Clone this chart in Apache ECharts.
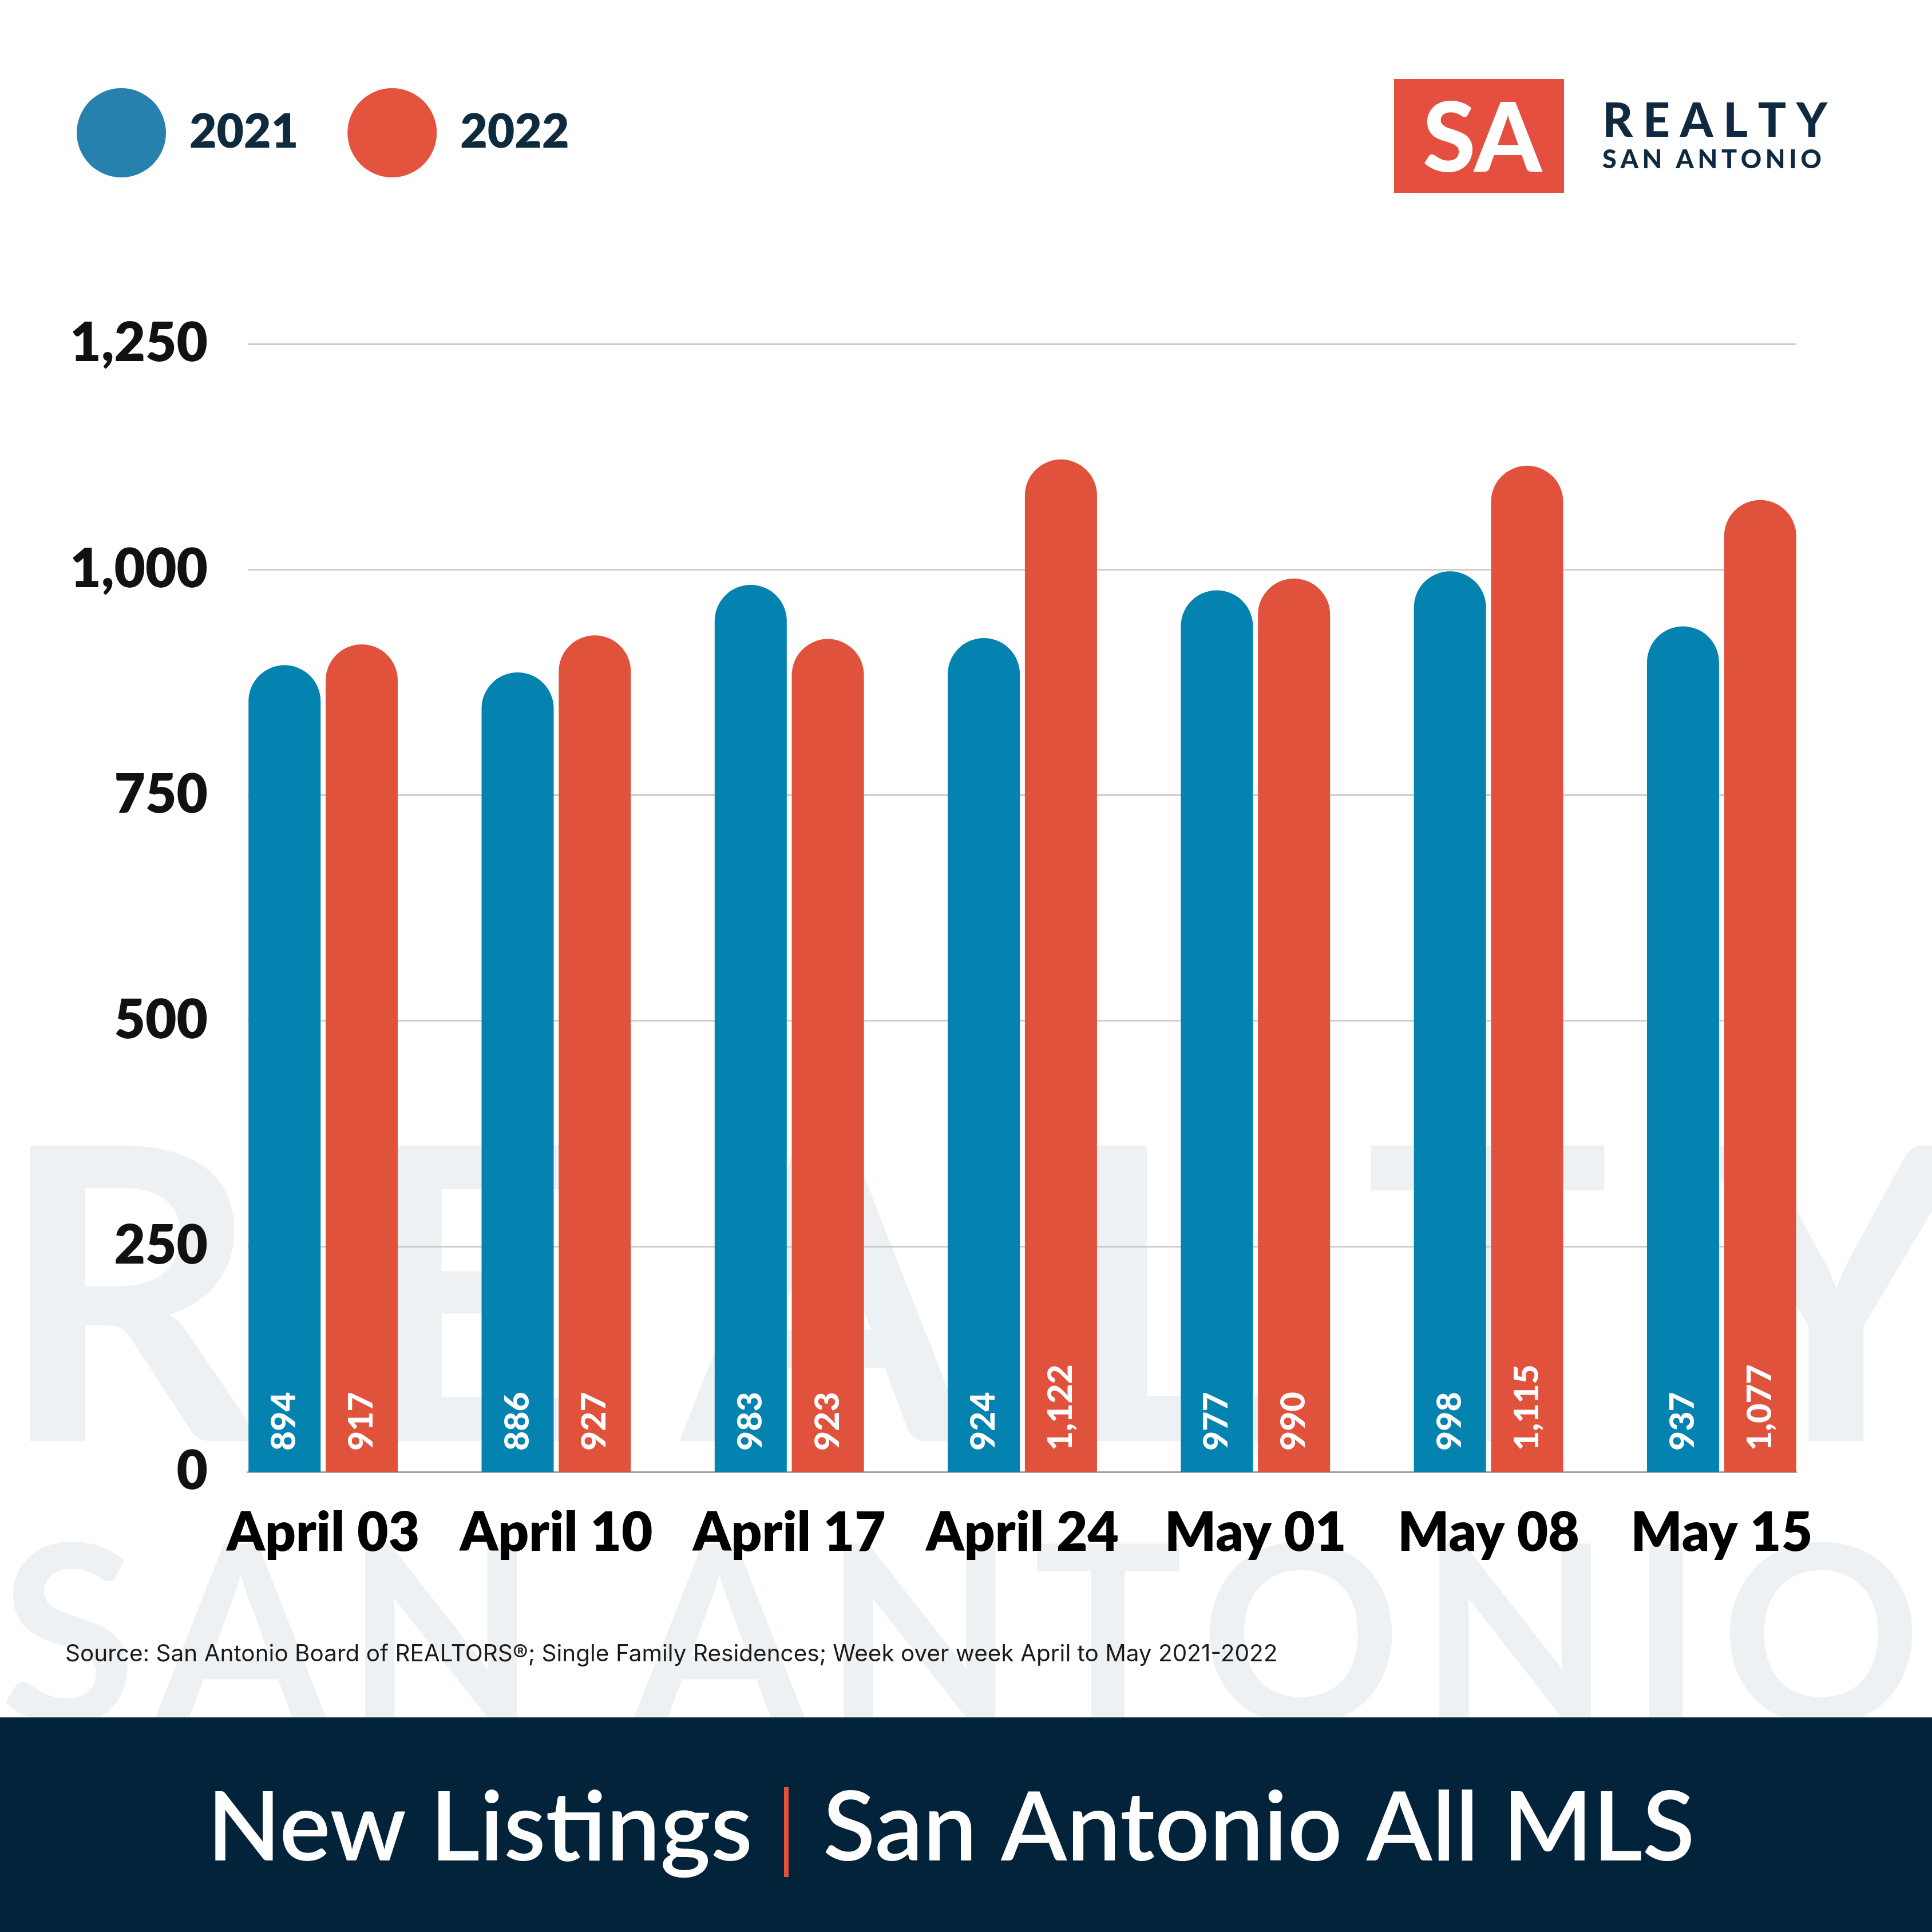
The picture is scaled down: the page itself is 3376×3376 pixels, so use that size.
<!DOCTYPE html>
<html>
<head>
<meta charset="utf-8">
<script src="https://cdn.jsdelivr.net/npm/echarts@6/dist/echarts.min.js"></script>
<style>
  html, body { margin: 0; padding: 0; background: #fff; }
  #chart { width: 3376px; height: 3376px; }
</style>
</head>
<body>
<div id="chart"></div>
<script>
// weekly new listings, San Antonio all MLS
var weeks = ['April 03', 'April 10', 'April 17', 'April 24', 'May 01', 'May 08', 'May 15'];
var listings2021 = [894, 886, 983, 924, 977, 998, 937];
var listings2022 = [917, 927, 923, 1122, 990, 1115, 1077];
var yMax = 1250;
var yStep = 250;

var BLUE = '#0483b0';
var RED = '#e1523d';
var NAVY = '#022339';
var INK = '#0d2a3e';
var FONT = 'Lato';

var chart = echarts.init(document.getElementById('chart'));

// echarts text has no letter spacing, so spread letters over [x0, x1]
var measureCtx = document.createElement('canvas').getContext('2d');
function spacedText(str, x0, x1, capMid, size, weight, color, z) {
  var font = weight + ' ' + size + 'px ' + FONT;
  measureCtx.font = font;
  var chars = str.split('');
  var widths = chars.map(function (c) { return measureCtx.measureText(c).width; });
  var total = widths.reduce(function (a, b) { return a + b; }, 0);
  var gap = (x1 - x0 - total) / (chars.length - 1);
  var x = x0;
  var out = [];
  chars.forEach(function (c, i) {
    if (c !== ' ') {
      out.push({
        type: 'text', z: z, silent: true,
        style: {
          text: c, x: x, y: capMid + size * 0.036, font: font, fill: color,
          textAlign: 'left', textVerticalAlign: 'middle'
        }
      });
    }
    x += widths[i] + gap;
  });
  return out;
}

function plainText(str, x, capMid, size, weight, color, align, family) {
  return {
    type: 'text', z: 5,
    style: {
      text: str, x: x, y: capMid + size * 0.036,
      font: weight + ' ' + size + 'px ' + (family || FONT), fill: color,
      textAlign: align || 'left', textVerticalAlign: 'middle'
    }
  };
}

var graphics = []
  // watermark behind the chart
  .concat(spacedText('REALTY', -5, 3440, 2262, 715, 'bold', '#eef1f4', -10))
  .concat(spacedText('SAN ANTONIO', 0, 3358, 2856, 435, 'bold', '#eef1f4', -10))
  // logo
  .concat([
    { type: 'rect', z: 5, shape: { x: 2436, y: 138, width: 297, height: 199 }, style: { fill: '#e44f3f' } },
    plainText('SA', 2590, 240, 168, '900', '#ffffff', 'center')
  ])
  .concat(spacedText('REALTY', 2800, 3193, 210, 82, '900', '#0f2a40', 5))
  .concat(spacedText('SAN ANTONIO', 2800, 3183, 278, 45, '900', '#0f2a40', 5))
  // source + footer band
  .concat([
    plainText('Source: San Antonio Board of REALTORS®; Single Family Residences; Week over week April to May 2021-2022',
      114, 2889, 40.5, 'normal', '#1a1a1a', 'left', 'Inter'),
    { type: 'rect', z: 4, shape: { x: 0, y: 3001, width: 3376, height: 375 }, style: { fill: NAVY } },
    plainText('New Listings', 362, 3191, 168, '600', '#ffffff'),
    { type: 'rect', z: 5, shape: { x: 1370, y: 3123, width: 8, height: 157 }, style: { fill: RED } },
    plainText('San Antonio All MLS', 1438, 3191, 168, '600', '#ffffff')
  ]);

var barLabel = {
  show: true,
  position: 'insideBottom',
  distance: 37,
  rotate: 90,
  align: 'left',
  verticalAlign: 'middle',
  color: '#ffffff',
  fontFamily: FONT,
  fontWeight: 900,
  fontSize: 59,
  formatter: function (p) { return echarts.format.addCommas(p.value); }
};

var option = {
  backgroundColor: '#ffffff',
  animation: false,
  textStyle: { fontFamily: FONT },
  legend: {
    left: 134,
    top: 154,
    padding: 0,
    icon: 'circle',
    itemWidth: 156,
    itemHeight: 156,
    itemGap: 86,
    data: [
      { name: '2021', itemStyle: { color: '#2681ae' } },
      { name: '2022', itemStyle: { color: '#e3533d' } }
    ],
    textStyle: {
      fontFamily: FONT, fontWeight: 800, fontSize: 82, color: INK,
      padding: [0, 0, 0, 36]
    }
  },
  grid: [
    // bars
    { left: 361, top: 601, width: 2851, height: 1971 },
    // gridlines and y labels
    { left: 433, top: 601, width: 2706, height: 1971 }
  ],
  xAxis: [
    {
      type: 'category', gridIndex: 0, data: weeks,
      axisLine: { show: false }, axisTick: { show: false },
      axisLabel: {
        interval: 0, margin: 61,
        fontFamily: FONT, fontWeight: 800, fontSize: 94, color: '#000000'
      }
    },
    {
      type: 'value', gridIndex: 1, min: 0, max: 1,
      axisLine: { show: true, lineStyle: { color: '#a0a0a0', width: 3 } },
      axisTick: { show: false }, axisLabel: { show: false }, splitLine: { show: false }
    }
  ],
  yAxis: [
    { type: 'value', gridIndex: 0, min: 0, max: yMax, interval: yStep, show: false },
    {
      type: 'value', gridIndex: 1, min: 0, max: yMax, interval: yStep,
      axisLine: { show: false }, axisTick: { show: false },
      axisLabel: {
        margin: 70,
        fontFamily: FONT, fontWeight: 800, fontSize: 94, color: '#111111',
        formatter: function (v) { return echarts.format.addCommas(v); }
      },
      splitLine: { lineStyle: { color: '#cdcdcd', width: 3 } }
    }
  ],
  series: [
    {
      name: '2021', type: 'bar', xAxisIndex: 0, yAxisIndex: 0,
      data: listings2021, barWidth: 126, barGap: '7%',
      itemStyle: { color: BLUE, borderRadius: [63, 63, 0, 0] },
      label: barLabel
    },
    {
      name: '2022', type: 'bar', xAxisIndex: 0, yAxisIndex: 0,
      data: listings2022, barWidth: 126, barGap: '7%',
      itemStyle: { color: RED, borderRadius: [63, 63, 0, 0] },
      label: barLabel
    }
  ],
  graphic: { elements: graphics }
};

chart.setOption(option);
</script>
</body>
</html>
